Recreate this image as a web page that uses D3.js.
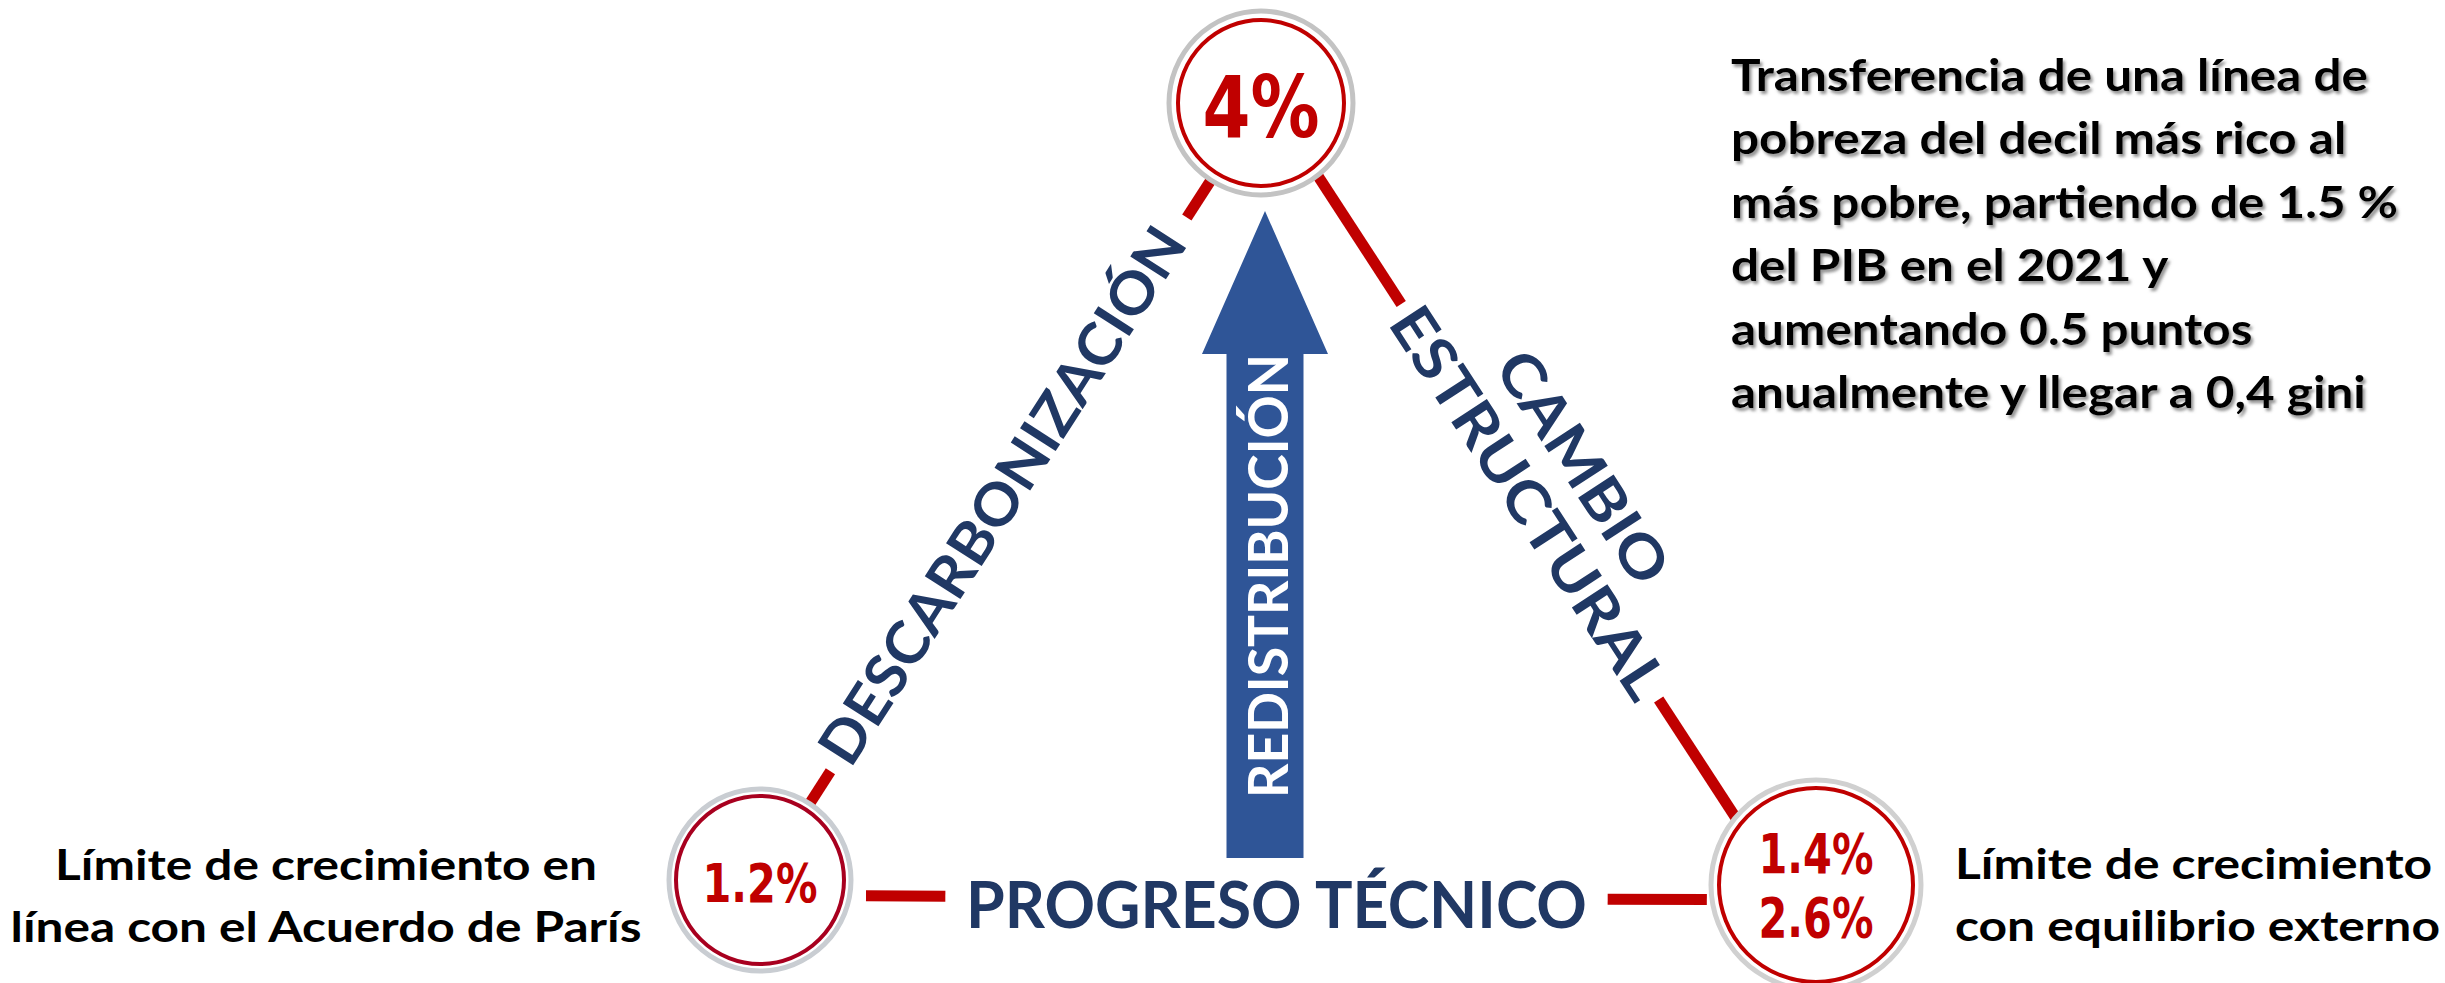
<!DOCTYPE html>
<html>
<head>
<meta charset="utf-8">
<script src="https://d3js.org/d3.v7.min.js"></script>
<style>
html, body { margin: 0; padding: 0; background: #fff; }
svg { display: block; }
</style>
</head>
<body>
<div id="chart"></div>
<script>
// growth rate at each corner of the triangle
var nodeIds = ["top", "left", "right"];
var nodeValues = [["4%"], ["1.2%"], ["1.4%", "2.6%"]];

// sides of the triangle (from corner -> to corner) and their labels
var edgeIds = ["left", "right", "bottom"];
var edgeEnds = [["left", "top"], ["top", "right"], ["left", "right"]];
var edgeLabels = [["DESCARBONIZACIÓN"], ["CAMBIO", "ESTRUCTURAL"], ["PROGRESO TÉCNICO"]];

var arrowLabel = ["REDISTRIBUCIÓN"];

var noteTop = [
    "Transferencia de una línea de",
    "pobreza del decil más rico al",
    "más pobre, partiendo de 1.5 %",
    "del PIB en el 2021 y",
    "aumentando 0.5 puntos",
    "anualmente y llegar a 0,4 gini"
];
var noteLeft = ["Límite de crecimiento en", "línea con el Acuerdo de París"];
var noteRight = ["Límite de crecimiento", "con equilibrio externo"];

/**************************************************************************
******************************* layout ************************************
**************************************************************************/

var w = 2445;
var h = 983;

var red = "#C00000";
var navy = "#203864";
var blue = "#2F5597";
var labelFont = "Lato, 'Open Sans', sans-serif";
var numFont = "'DejaVu Sans', sans-serif";

var nodes = {
    top:   { x: 1261, y: 103, r: 92,  ri: 83, ring: red,       gray: "#C3C3C3", cap: 62, lead: 0,  width: 117, dy: 3 },
    left:  { x: 760,  y: 880, r: 91,  ri: 84, ring: "#A8001F", gray: "#C9CDD2", cap: 39, lead: 0,  width: 115, dy: 2 },
    right: { x: 1816, y: 885, r: 105, ri: 97, ring: red,       gray: "#D0D0D0", cap: 40, lead: 64, width: 115, dy: 0 }
};

// where each side leaves the rings (degrees), which parts of it are drawn,
// and where its label sits (t along the side, offset across it)
var edgeGeom = {
    left:   { a0: -57, a1: 123, segs: [[0, 0.052], [0.94, 1]],     t: 0.49,  off: 5,  cap: 42, lead: 0,  width: 625, flat: false },
    right:  { a0: 52,  a1: 220, segs: [[0, 0.2], [0.816, 1]],      t: 0.508, off: 31, cap: 42, lead: 65, width: 455, flat: false },
    bottom: { a0: 10,  a1: 172, segs: [[0.019, 0.111], [0.879, 0.994]], t: 0.495, off: -7, cap: 47, lead: 0, width: 621, flat: true }
};

var svg = d3.select("#chart")
            .append("svg")
            .attr("width", w)
            .attr("height", h);

var defs = svg.append("defs");
defs.append("filter")
    .attr("id", "shadow")
    .attr("x", "-5%").attr("y", "-5%").attr("width", "110%").attr("height", "120%")
  .append("feDropShadow")
    .attr("dx", 2).attr("dy", 3)
    .attr("stdDeviation", 1.5)
    .attr("flood-color", "#707070")
    .attr("flood-opacity", 0.75);

function ringPoint(id, deg) {
    var n = nodes[id], a = deg * Math.PI / 180;
    return [n.x + n.r * Math.cos(a), n.y + n.r * Math.sin(a)];
}

// block of lines centred (on cap height) at x,y, squeezed so line `fit`
// (or the longest one) is `width` wide
function textBlock(parent, lines, o) {
    var g = parent.append("g")
        .attr("transform", "translate(" + o.x + "," + o.y + ") rotate(" + (o.angle || 0) + ")");
    var inner = g.append("g");
    var size = o.cap / o.capRatio;
    var t = inner.selectAll("text")
        .data(lines)
        .enter()
        .append("text")
        .attr("x", 0)
        .attr("y", function (d, i) { return o.cap / 2 + (i - (lines.length - 1) / 2) * o.lead; })
        .attr("text-anchor", o.anchor || "middle")
        .style("font-family", o.font)
        .style("font-weight", 700)
        .style("font-size", size + "px")
        .attr("fill", o.color)
        .text(function (d) { return d; });
    if (o.filter) t.attr("filter", o.filter);
    var ref = o.fit != null
        ? t.nodes()[o.fit].getComputedTextLength()
        : d3.max(t.nodes(), function (n) { return n.getComputedTextLength(); });
    inner.attr("transform", "scale(" + (o.width / ref) + ",1)");
    return g;
}

/**************************************************************************
******************************* sides *************************************
**************************************************************************/

var edgeLayer = svg.append("g");
var labelLayer = svg.append("g");

edgeIds.forEach(function (id, i) {
    var e = edgeGeom[id];
    var p0 = ringPoint(edgeEnds[i][0], e.a0);
    var p1 = ringPoint(edgeEnds[i][1], e.a1);
    var along = d3.interpolateArray(p0, p1);
    var dx = p1[0] - p0[0], dy = p1[1] - p0[1];
    var len = Math.sqrt(dx * dx + dy * dy);
    var ux = dx / len, uy = dy / len;

    edgeLayer.selectAll(null)
        .data(e.segs)
        .enter()
        .append("line")
        .attr("x1", function (s) { return along(s[0])[0]; })
        .attr("y1", function (s) { return along(s[0])[1]; })
        .attr("x2", function (s) { return along(s[1])[0]; })
        .attr("y2", function (s) { return along(s[1])[1]; })
        .attr("stroke", red)
        .attr("stroke-width", 11);

    var c = along(e.t);
    textBlock(labelLayer, edgeLabels[i], {
        x: c[0] + uy * e.off,
        y: c[1] - ux * e.off,
        angle: e.flat ? 0 : Math.atan2(dy, dx) * 180 / Math.PI,
        cap: e.cap, capRatio: 0.7165, lead: e.lead, width: e.width,
        font: labelFont, color: navy
    });
});

/**************************************************************************
******************************* arrow *************************************
**************************************************************************/

var ax = nodes.top.x + 4;
var arrowTip = nodes.top.y + nodes.top.r + 16;
var arrowBase = 858;
var headBase = arrowTip + 143;
var arrowPts = [
    [ax, arrowTip], [ax + 63, headBase], [ax + 38.5, headBase], [ax + 38.5, arrowBase],
    [ax - 38.5, arrowBase], [ax - 38.5, headBase], [ax - 63, headBase]
];
svg.append("path")
    .attr("d", d3.line()(arrowPts) + "Z")
    .attr("fill", blue);

textBlock(svg, arrowLabel, {
    x: ax + 3, y: (headBase + arrowBase) / 2 - 30, angle: -90,
    cap: 40, capRatio: 0.7165, lead: 0, width: 444,
    font: labelFont, color: "#fff"
});

/**************************************************************************
******************************* corners ***********************************
**************************************************************************/

nodeIds.forEach(function (id, i) {
    var n = nodes[id];
    var g = svg.append("g");
    g.append("circle")
        .attr("cx", n.x).attr("cy", n.y).attr("r", n.r)
        .attr("fill", "#fff")
        .attr("stroke", n.gray)
        .attr("stroke-width", 5);
    g.append("circle")
        .attr("cx", n.x).attr("cy", n.y).attr("r", n.ri)
        .attr("fill", "none")
        .attr("stroke", n.ring)
        .attr("stroke-width", 4);
    textBlock(g, nodeValues[i], {
        x: n.x, y: n.y + n.dy,
        cap: n.cap, capRatio: 0.729, lead: n.lead, width: n.width,
        font: numFont, color: red
    });
});

/**************************************************************************
******************************* notes *************************************
**************************************************************************/

textBlock(svg, noteTop, {
    x: 1731, y: 234, anchor: "start",
    cap: 31, capRatio: 0.7165, lead: 63.5, width: 667, fit: 2,
    font: labelFont, color: "#000", filter: "url(#shadow)"
});

textBlock(svg, noteLeft, {
    x: 326, y: 896,
    cap: 30, capRatio: 0.7165, lead: 63, width: 631,
    font: labelFont, color: "#000"
});

textBlock(svg, noteRight, {
    x: 1955, y: 895, anchor: "start",
    cap: 30, capRatio: 0.7165, lead: 63, width: 485,
    font: labelFont, color: "#000"
});
</script>
</body>
</html>
